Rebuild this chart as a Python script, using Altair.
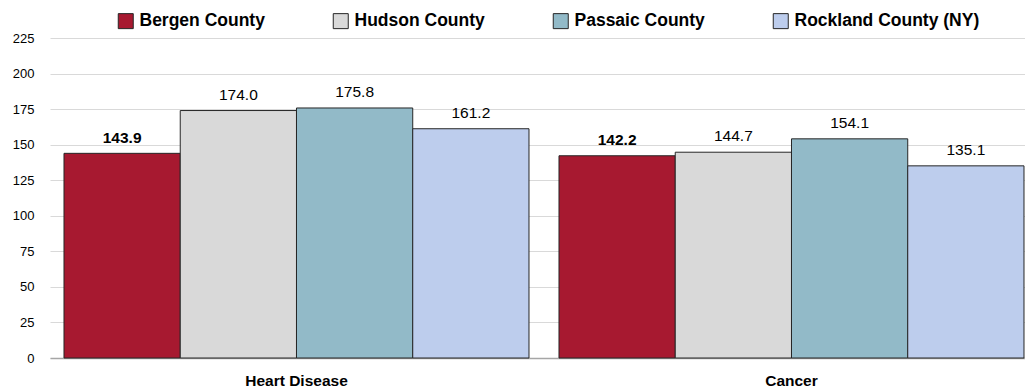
import altair as alt
import pandas as pd

causes = ["Heart Disease", "Cancer"]
counties = ["Bergen County", "Hudson County", "Passaic County", "Rockland County (NY)"]
heart_disease = [143.9, 174.0, 175.8, 161.2]
cancer = [142.2, 144.7, 154.1, 135.1]
colors = ["#A71930", "#D9D9D9", "#92BAC8", "#BDCDED"]
y_ticks = [0, 25, 50, 75, 100, 125, 150, 175, 200, 225]

rows = []
for cause, vals in zip(causes, [heart_disease, cancer]):
    for county, v in zip(counties, vals):
        rows.append({"cause": cause, "county": county, "value": v, "label": f"{v:.1f}"})
df = pd.DataFrame(rows)

FONT = "Liberation Sans"

x = alt.X("cause:N", sort=causes, title=None,
          scale=alt.Scale(paddingInner=0.06061, paddingOuter=0.01515, align=0.933),
          axis=alt.Axis(labelAngle=0, ticks=False, grid=False, domainColor="#A6A6A6",
                        domainWidth=1.5, labelFont=FONT, labelFontSize=15.5,
                        labelFontWeight="bold", labelColor="#000000", labelPadding=15))
xo = alt.XOffset("county:N", sort=counties, scale=alt.Scale(paddingInner=0, paddingOuter=0))
y = alt.Y("value:Q", title=None,
          scale=alt.Scale(domain=[0, 225], nice=False),
          axis=alt.Axis(values=y_ticks, ticks=False, domain=False, grid=True,
                        gridColor="#D9D9D9", labelFont=FONT, labelFontSize=13,
                        labelColor="#000000", labelPadding=16))

base = alt.Chart(df).encode(x=x, xOffset=xo, y=y)

bars = base.mark_bar(stroke="#262626", strokeWidth=1).encode(
    color=alt.Color("county:N", sort=counties,
                    scale=alt.Scale(domain=counties, range=colors),
                    legend=alt.Legend(title=None, orient="none", legendX=67, legendY=-26,
                                      direction="horizontal", columnPadding=66,
                                      symbolType="square", symbolSize=225,
                                      symbolStrokeColor="#262626", symbolStrokeWidth=1,
                                      labelOffset=5,
                                      labelFont=FONT, labelFontSize=17.5, labelFontWeight="bold",
                                      labelColor="#000000", labelLimit=300)),
)

text_bold = base.transform_filter(alt.datum.county == "Bergen County").mark_text(
    font=FONT, fontSize=15.5, fontWeight="bold", baseline="alphabetic", dy=-10.5,
    color="#000000"
).encode(text="label:N")

text_norm = base.transform_filter(alt.datum.county != "Bergen County").mark_text(
    font=FONT, fontSize=15.5, baseline="alphabetic", dy=-11, color="#000000"
).encode(text="label:N")

chart = alt.layer(bars, text_bold, text_norm).properties(
    width=975, height=320,
    autosize=alt.AutoSizeParams(type="none"),
    padding={"left": 42, "top": 30, "right": 0, "bottom": 34},
).configure_view(stroke=None)

chart.save("out.html", embed_options={"renderer": "svg", "actions": False})
